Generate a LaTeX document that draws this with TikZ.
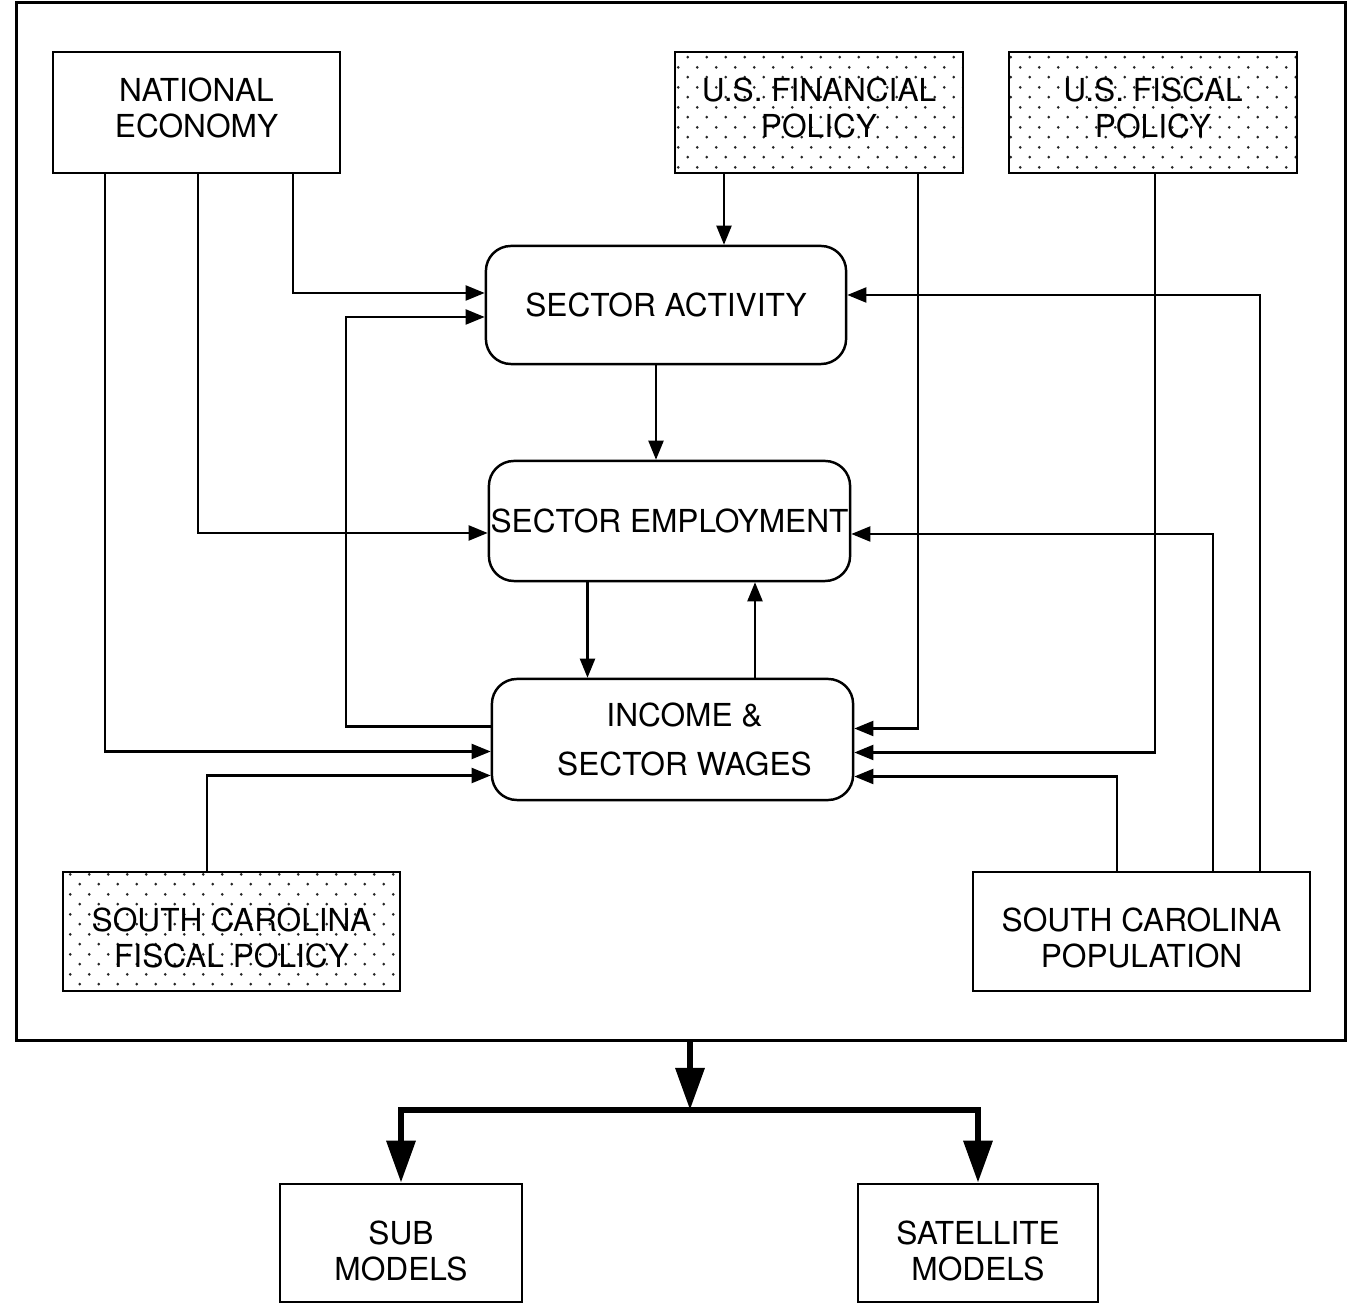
\documentclass[tikz,border=0pt]{standalone}
\usepackage{fontspec}
\setmainfont{TeX Gyre Heros}
\usetikzlibrary{arrows.meta,calc,patterns}
\pgfdeclarepatternformonly{fewdots}{\pgfpointorigin}{\pgfpoint{5.4pt}{5.6pt}}{\pgfpoint{5.4pt}{5.6pt}}{%
  \pgfpathcircle{\pgfpoint{1.35pt}{1.4pt}}{0.42pt}%
  \pgfpathcircle{\pgfpoint{4.05pt}{4.2pt}}{0.42pt}%
  \pgfusepath{fill}}

\begin{document}
\begin{tikzpicture}[x=0.01cm,y=-0.01cm,
  box/.style={draw,line width=0.7pt,inner sep=0pt,align=center,font=\fontsize{9}{10.3}\selectfont},
  dotbox/.style={box,pattern=fewdots,pattern color=black!85},
  roundbox/.style={box,rounded corners=0.25cm},
  arr/.style={line width=0.6pt,-{Triangle[length=0.19cm,width=0.15cm]}},
  bigarr/.style={line width=1.8pt,-{Triangle[length=0.42cm,width=0.28cm]}}]
\useasboundingbox (0,0) rectangle (1360,1304);
\node[draw,line width=0.9pt,minimum width=13.28cm,minimum height=10.37cm] (frame) at (681,521.5) {};
\node[box,minimum width=2.87cm,minimum height=1.21cm] (ne) at (196.5,112.5) {NATIONAL\\ECONOMY\\[-7.5pt]\mbox{}};
\node[dotbox,minimum width=2.88cm,minimum height=1.21cm] (fin) at (819,112.5) {U.S. FINANCIAL\\POLICY\\[-7.5pt]\mbox{}};
\node[dotbox,minimum width=2.88cm,minimum height=1.21cm] (fisc) at (1153,112.5) {U.S. FISCAL\\POLICY\\[-7.5pt]\mbox{}};
\node[roundbox,minimum width=3.6cm,minimum height=1.18cm] (sa) at (666,305) {SECTOR ACTIVITY};
\node[roundbox,minimum width=3.61cm,minimum height=1.2cm] (se) at (669.5,521) {SECTOR EMPLOYMENT};
\node[roundbox,minimum width=3.61cm,minimum height=1.21cm] (isw) at (672.5,739.5) {\hspace*{0.24cm}INCOME \&\\[3.4pt]\hspace*{0.24cm}SECTOR WAGES};
\node[dotbox,minimum width=3.37cm,minimum height=1.19cm] (scf) at (231.5,931.5) {\mbox{}\\[0.2pt]SOUTH CAROLINA\\FISCAL POLICY};
\node[box,minimum width=3.37cm,minimum height=1.19cm] (scp) at (1141.5,931.5) {\mbox{}\\[0.3pt]SOUTH CAROLINA\\POPULATION};
\node[box,minimum width=2.42cm,minimum height=1.18cm] (sub) at (401,1243) {\mbox{}\\[0.8pt]SUB\\MODELS};
\node[box,minimum width=2.4cm,minimum height=1.18cm] (sat) at (978,1243) {\mbox{}\\[0.8pt]SATELLITE\\MODELS};
\coordinate (fork) at (690,1110);
%NE to SA
\draw[arr] ($(ne.south)+(96.5,0)$) |- ($(sa.west)+(0,-12)$);
%NE to SE
\draw[arr] ($(ne.south)+(1.5,0)$) |- ($(se.west)+(0,12)$);
%NE to ISW
\draw[arr] ($(ne.south)+(-91.5,0)$) |- ($(isw.west)+(0,12)$);
%FIN to SA
\draw[arr] ($(fin.south)+(-95,0)$) coordinate (f1) -- (f1 |- sa.north);
%FIN to ISW
\draw[arr] ($(fin.south)+(99,0)$) |- ($(isw.east)+(0,-11)$);
%FISC to ISW
\draw[arr] ($(fisc.south)+(2,0)$) |- ($(isw.east)+(0,13)$);
%SCP to SA
\draw[arr] ($(scp.north)+(118.5,0)$) |- ($(sa.east)+(0,-10)$);
%SCP to SE
\draw[arr] ($(scp.north)+(71.5,0)$) |- ($(se.east)+(0,13)$);
%SCP to ISW
\draw[arr] ($(scp.north)+(-24.5,0)$) |- ($(isw.east)+(0,37)$);
%SCF to ISW
\draw[arr] ($(scf.north)+(-24.5,0)$) |- ($(isw.west)+(0,36)$);
%ISW back to SA
\draw[arr] ($(isw.west)+(0,-13)$) -| ($(sa.west)+(-139,12)$) -- ($(sa.west)+(0,12)$);
%SA to SE
\draw[arr] ($(sa.south)+(-10,0)$) coordinate (s1) -- (s1 |- se.north);
%SE to ISW
\draw[arr] ($(se.south)+(-82,0)$) coordinate (s2) -- (s2 |- isw.north);
%ISW to SE
\draw[arr] ($(isw.north)+(82.5,0)$) coordinate (s3) -- (s3 |- se.south);
%model to sub and satellite models
\draw[bigarr] ($(frame.south)+(9,0)$) -- (fork);
\draw[bigarr] (fork) -| (sub.north);
\draw[bigarr] (fork) -| (sat.north);
\end{tikzpicture}
\end{document}
